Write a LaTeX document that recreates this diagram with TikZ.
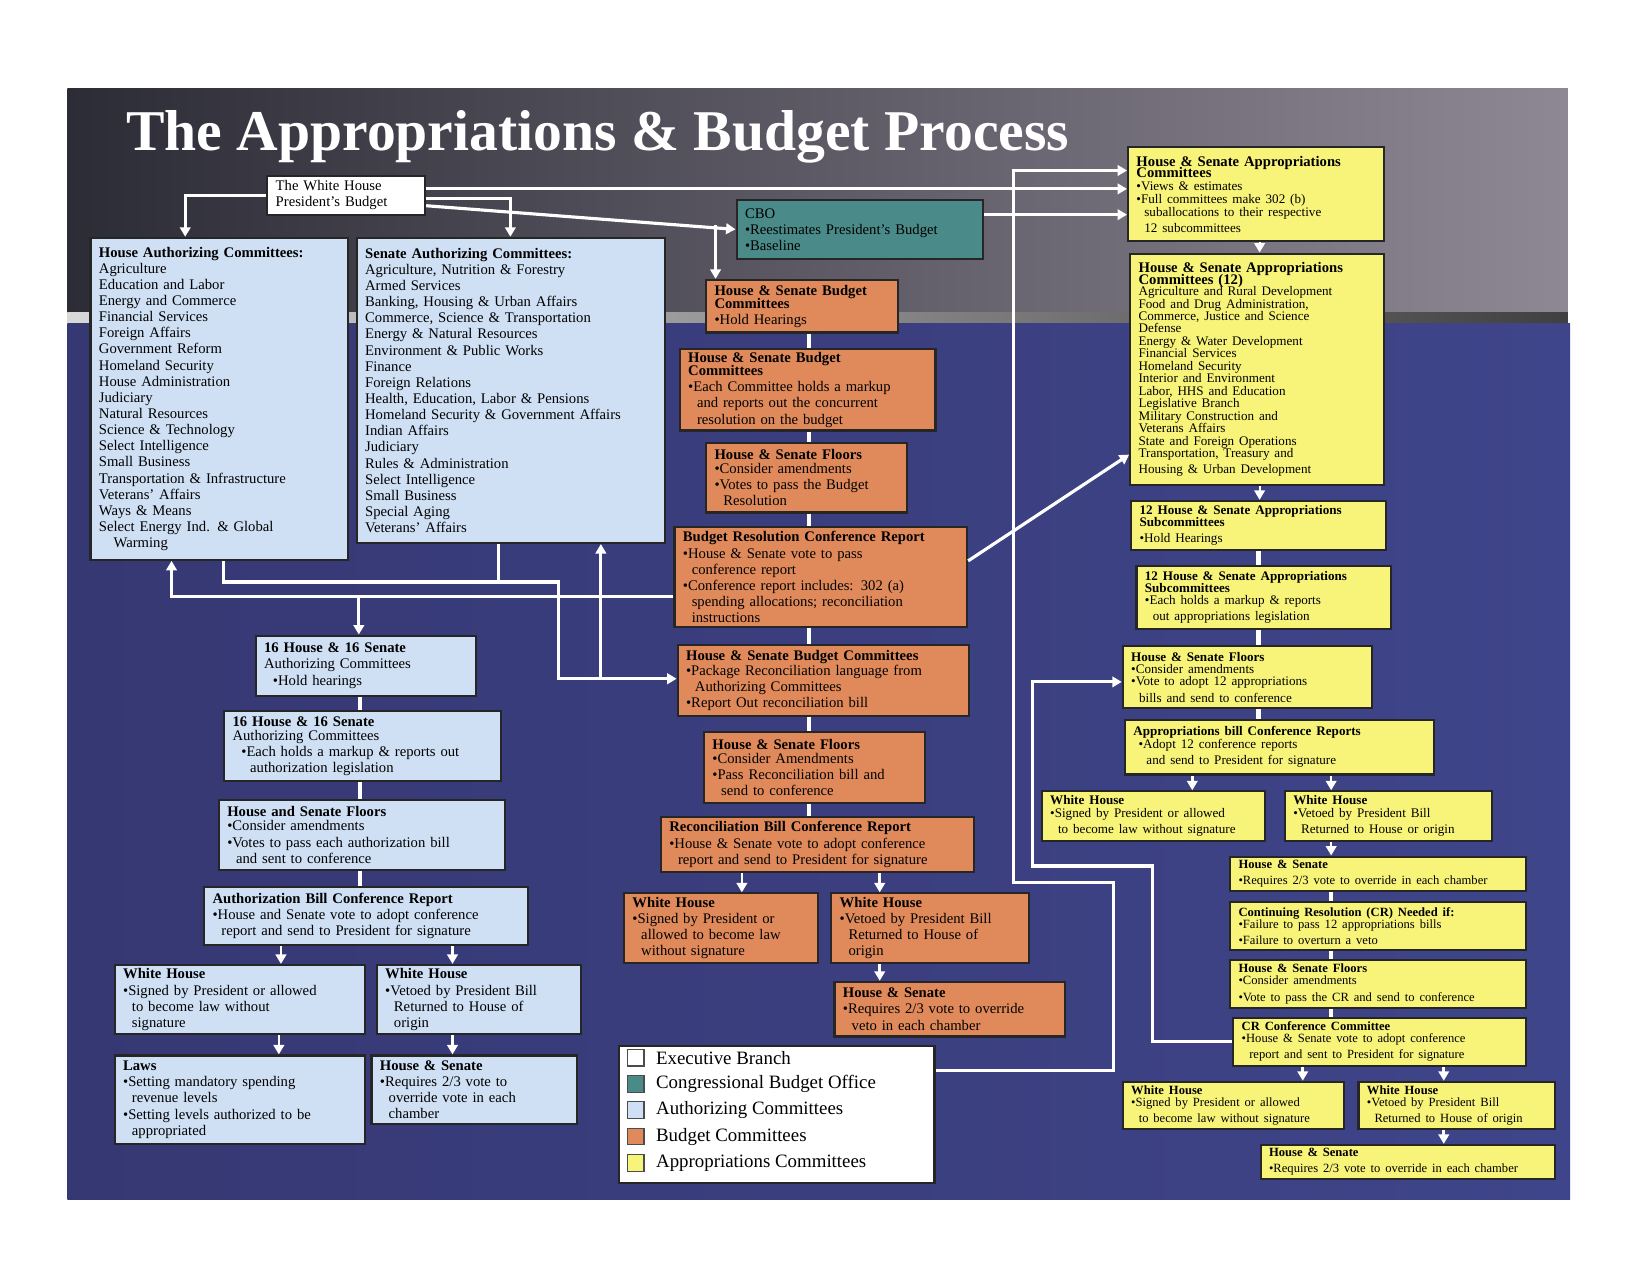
\documentclass[tikz,border=0pt]{standalone}
\usepackage{fontspec}
\setmainfont{Liberation Serif}
\usetikzlibrary{arrows.meta}
\definecolor{ablue}{HTML}{CFE0F5}
\definecolor{aorange}{HTML}{E08A5C}
\definecolor{ayellow}{HTML}{F8F47A}
\definecolor{ateal}{HTML}{4A8A88}
\definecolor{topl}{HTML}{2C2C36}
\definecolor{topr}{HTML}{8E8894}
\definecolor{botl}{HTML}{363873}
\definecolor{botr}{HTML}{3F458A}
\newcommand\bx[7]{\node[bx,fill=#6,minimum width={#4bp-#2bp},minimum height={#5bp-#3bp},text width=\dimexpr #4bp-#2bp-16bp\relax] (#1) at (#2,#3) {#7};}
\begin{document}
\begin{tikzpicture}[x=1bp,y=-1bp,
 bx/.style={draw=black!85,line width=2bp,anchor=north west,inner xsep=8bp,inner ysep=3bp,align=left,font=\fontsize{14}{15.4}\selectfont},
 arr/.style={draw=white,line width=3bp,-{Triangle[length=9bp,width=10bp]}},
 lnk/.style={draw=white,line width=4bp}]
\useasboundingbox (0,0) rectangle (1568,1212);
\fill[white] (0,0) rectangle (1568,1212);
\shade[left color=topl,right color=topr] (64,84) rectangle (1490,297);
\shade[left color=gray!30,right color=gray!50!black] (64,297) rectangle (1490,307);
\shade[left color=botl,right color=botr] (64,307) rectangle (1492,1140);
\node[text=white,font=\fontsize{55}{58}\selectfont\bfseries] (title) at (568,130) {The Appropriations \& Budget Process};
% white house
\bx{wh}{253}{166}{403}{203}{white}{The White House\\President’s Budget}
\bx{ha}{85}{225}{330}{531}{ablue}{\textbf{House Authorizing Committees:}\\Agriculture\\Education and Labor\\Energy and Commerce\\Financial Services\\Foreign Affairs\\Government Reform\\Homeland Security\\House Administration\\Judiciary\\Natural Resources\\Science \& Technology\\Select Intelligence\\Small Business\\Transportation \& Infrastructure\\Veterans’ Affairs\\Ways \& Means\\Select Energy Ind. \& Global\\\hspace*{1em}Warming}
\bx{sa}{338}{225}{631}{515}{ablue}{\textbf{Senate Authorizing Committees:}\\Agriculture, Nutrition \& Forestry\\Armed Services\\Banking, Housing \& Urban Affairs\\Commerce, Science \& Transportation\\Energy \& Natural Resources\\Environment \& Public Works\\Finance\\Foreign Relations\\Health, Education, Labor \& Pensions\\Homeland Security \& Government Affairs\\Indian Affairs\\Judiciary\\Rules \& Administration\\Select Intelligence\\Small Business\\Special Aging\\Veterans’ Affairs}
\bx{cbo}{699}{189}{933}{245}{ateal}{CBO\\•Reestimates President’s Budget\\•Baseline}
% budget chain
\bx{b1}{670}{265}{852}{315}{aorange}{\textbf{House \& Senate Budget}\\[-3bp]\textbf{Committees}\\•Hold Hearings}
\bx{b2}{645}{331}{888}{407}{aorange}{\textbf{House \& Senate Budget}\\[-3bp]\textbf{Committees}\\•Each Committee holds a markup\\\hspace*{0.6em}and reports out the concurrent\\\hspace*{0.6em}resolution on the budget}
\bx{fl}{670}{420}{861}{486}{aorange}{\textbf{House \& Senate Floors}\\[-2bp]•Consider amendments\\•Votes to pass the Budget\\\hspace*{0.6em}Resolution}
\bx{br}{640}{500}{918}{595}{aorange}{\textbf{Budget Resolution Conference Report}\\•House \& Senate vote to pass\\\hspace*{0.6em}conference report\\•Conference report includes: 302 (a)\\\hspace*{0.6em}spending allocations; reconciliation\\\hspace*{0.6em}instructions}
\bx{pk}{643}{612}{920}{679}{aorange}{\textbf{House \& Senate Budget Committees}\\[-1bp]•Package Reconciliation language from\\\hspace*{0.6em}Authorizing Committees\\•Report Out reconciliation bill}
\bx{rf}{668}{695}{878}{762}{aorange}{\textbf{House \& Senate Floors}\\[-2bp]•Consider Amendments\\•Pass Reconciliation bill and\\\hspace*{0.6em}send to conference}
\bx{rc}{627}{775}{925}{828}{aorange}{\textbf{Reconciliation Bill Conference Report}\\•House \& Senate vote to adopt conference\\\hspace*{0.6em}report and send to President for signature}
\bx{rw1}{592}{848}{776}{914}{aorange}{\textbf{White House}\\•Signed by President or\\\hspace*{0.6em}allowed to become law\\\hspace*{0.6em}without signature}
\bx{rw2}{789}{848}{977}{914}{aorange}{\textbf{White House}\\•Vetoed by President Bill\\\hspace*{0.6em}Returned to House of\\\hspace*{0.6em}origin}
\bx{rov}{792}{932}{1011}{984}{aorange}{\textbf{House \& Senate}\\•Requires 2/3 vote to override\\\hspace*{0.6em}veto in each chamber}
% left chain
\bx{h16}{242}{603}{451}{660}{ablue}{\textbf{16 House \& 16 Senate}\\Authorizing Committees\\\hspace*{0.6em}•Hold hearings}
\bx{m16}{212}{675}{475}{741}{ablue}{\textbf{16 House \& 16 Senate}\\[-2bp]Authorizing Committees\\\hspace*{0.6em}•Each holds a markup \& reports out\\\hspace*{1.2em}authorization legislation}
\bx{lf}{207}{759}{479}{826}{ablue}{\textbf{House and Senate Floors}\\[-2bp]•Consider amendments\\•Votes to pass each authorization bill\\\hspace*{0.6em}and sent to conference}
\bx{ac}{193}{842}{501}{897}{ablue}{\textbf{Authorization Bill Conference Report}\\•House and Senate vote to adopt conference\\\hspace*{0.6em}report and send to President for signature}
\bx{lw1}{108}{916}{346}{982}{ablue}{\textbf{White House}\\•Signed by President or allowed\\\hspace*{0.6em}to become law without\\\hspace*{0.6em}signature}
\bx{lw2}{357}{916}{551}{982}{ablue}{\textbf{White House}\\•Vetoed by President Bill\\\hspace*{0.6em}Returned to House of\\\hspace*{0.6em}origin}
\bx{laws}{108}{1002}{346}{1086}{ablue}{\textbf{Laws}\\•Setting mandatory spending\\\hspace*{0.6em}revenue levels\\•Setting levels authorized to be\\\hspace*{0.6em}appropriated}
\bx{lov}{352}{1002}{547}{1067}{ablue}{\textbf{House \& Senate}\\•Requires 2/3 vote to\\\hspace*{0.6em}override vote in each\\\hspace*{0.6em}chamber}
% legend
\node[draw=black!85,line width=2bp,fill=white,anchor=north west,minimum width=300bp,minimum height=130bp] (leg) at (587,993) {};
\foreach \c/\t [count=\i from 0] in {white/Executive Branch,ateal/Congressional Budget Office,ablue/Authorizing Committees,aorange/Budget Committees,ayellow/Appropriations Committees}{
 \node[draw=black!70,line width=1bp,fill=\c,minimum size=16bp,inner sep=0pt] (lg\i) at (604,{1005+25*\i}) {};
 \node[anchor=west,font=\fontsize{18}{19}\selectfont] (lt\i) at (620,{1005+25*\i}) {\t};}
% right column
\bx{ap1}{1071}{139}{1314}{228}{ayellow}{\textbf{House \& Senate Appropriations}\\[-4bp]\textbf{Committees}\\[-1bp]{\fontsize{12.5}{12.5}\selectfont •Views \& estimates\\•Full committees make 302 (b)\\\hspace*{0.6em}suballocations to their respective\\\hspace*{0.6em}12 subcommittees}}
\bx{ap2}{1073}{240}{1314}{460}{ayellow}{\textbf{House \& Senate Appropriations}\\[-4bp]\textbf{Committees (12)}\\[-1bp]{\fontsize{12.5}{11.9}\selectfont Agriculture and Rural Development\\Food and Drug Administration,\\Commerce, Justice and Science\\Defense\\Energy \& Water Development\\Financial Services\\Homeland Security\\Interior and  Environment\\Labor, HHS and Education\\Legislative Branch\\Military Construction and\\Veterans Affairs\\State and  Foreign Operations\\Transportation, Treasury and\\Housing \& Urban Development}}
\bx{s1}{1074}{475}{1316}{522}{ayellow}{\fontsize{12.5}{11.5}\selectfont\textbf{12 House \& Senate Appropriations}\\\textbf{Subcommittees}\\•Hold Hearings}
\bx{s2}{1079}{537}{1321}{597}{ayellow}{\fontsize{12.5}{11.5}\selectfont\textbf{12 House \& Senate Appropriations}\\\textbf{Subcommittees}\\•Each holds a markup \& reports\\\hspace*{0.6em}out appropriations legislation}
\bx{af}{1066}{613}{1303}{672}{ayellow}{\fontsize{12.5}{11.8}\selectfont\textbf{House \& Senate Floors}\\•Consider amendments\\•Vote to adopt 12 appropriations\\\hspace*{0.6em}bills and send to conference}
\bx{acr}{1068}{683}{1362}{735}{ayellow}{\fontsize{12.5}{12.5}\selectfont\textbf{Appropriations bill Conference Reports}\\\hspace*{0.4em}•Adopt 12 conference reports\\\hspace*{1em}and send to President for signature}
\bx{aw1}{989}{751}{1201}{798}{ayellow}{\fontsize{12.5}{11.8}\selectfont\textbf{White House}\\•Signed by President  or allowed\\\hspace*{0.6em}to become law  without signature}
\bx{aw2}{1220}{751}{1417}{798}{ayellow}{\fontsize{12.5}{11.8}\selectfont\textbf{White House}\\•Vetoed by President Bill\\\hspace*{0.6em}Returned to House or origin}
\bx{aov}{1168}{813}{1449}{846}{ayellow}{\fontsize{12}{11}\selectfont\textbf{House \& Senate}\\•Requires 2/3 vote to override in each chamber}
\bx{cr}{1168}{856}{1449}{902}{ayellow}{\fontsize{12}{11.5}\selectfont\textbf{Continuing Resolution (CR) Needed if:}\\•Failure to pass 12 appropriations bills\\•Failure to overturn a veto}
\bx{crf}{1168}{911}{1449}{957}{ayellow}{\fontsize{12}{11.5}\selectfont\textbf{House \& Senate Floors}\\•Consider amendments\\•Vote to pass the CR and send to conference}
\bx{crc}{1171}{966}{1449}{1012}{ayellow}{\fontsize{12}{11.5}\selectfont\textbf{CR Conference Committee}\\•House \& Senate vote to adopt conference\\\hspace*{0.6em}report and sent to President for signature}
\bx{cw1}{1066}{1027}{1276}{1072}{ayellow}{\fontsize{12}{11}\selectfont\textbf{White House}\\•Signed by President or allowed\\\hspace*{0.6em}to become law without signature}
\bx{cw2}{1290}{1027}{1477}{1072}{ayellow}{\fontsize{12}{11}\selectfont\textbf{White House}\\•Vetoed by President Bill\\\hspace*{0.6em}Returned to House of origin}
\bx{cov}{1197}{1087}{1477}{1119}{ayellow}{\fontsize{12}{11}\selectfont\textbf{House \& Senate}\\•Requires 2/3 vote to override in each chamber}
% connectors
\draw[arr] (wh.west) -| (ha.north -| 176,0);
\draw[arr] ([yshift=-3bp]wh.east) -| (sa.north -| 485,0);
\coordinate (cb) at (680,214);
\draw[arr] ([yshift=-10bp]wh.east) -- (cbo.west);
\draw[arr] (cb) -- (b1.north -| cb);
\draw[arr] ([yshift=6bp]wh.east) -- ([yshift=6bp]wh.east -| ap1.west);
\draw[arr] ([yshift=14bp]cbo.east) -- ([yshift=14bp]cbo.east -| ap1.west);
\draw[arr] (leg.east |- 0,1017) -- (1058,1017) -- (1058,839) -- (963,839) -- (963,162) -- (ap1.west |- 0,162);
\draw[arr] (crc.west) -- (crc.west -| 1095,0) -- (1095,823) -- (981,823) -- (981,648) -- (af.west |- 0,648);
\draw[arr] (br.east |- 0,533) -- (ap2.west |- 0,432);
\draw[arr] (ha.south -| 212,0) -- (212,553) -- (531,553) -- (531,645) -- (pk.west |- 0,645);
\draw[lnk,line width=3bp] (sa.south -| 474,0) -- (474,553);
\draw[arr] (br.west |- 0,567) -- (163,567) -- (ha.south -| 163,0);
\draw[arr] (341,567) -- (h16.north -| 341,0);
\draw[arr] (571,645) -- (sa.south -| 571,0);
\foreach \a/\b in {b1/b2,b2/fl,fl/br,br/pk,pk/rf,rf/rc} \draw[lnk] (\a.south -| 769,0) -- (\b.north -| 769,0);
\foreach \a/\b in {h16/m16,m16/lf,lf/ac} \draw[lnk] (\a.south -| 342,0) -- (\b.north -| 342,0);
\foreach \a/\b in {s1/s2,s2/af,af/acr} \draw[lnk] (\a.south -| 1196,0) -- (\b.north -| 1196,0);
\foreach \a/\b in {aov/cr,cr/crf,crf/crc} \draw[lnk] (\a.south -| 1265,0) -- (\b.north -| 1265,0);
\draw[arr,line width=2bp] (ap1.south -| 1197,0) -- (ap2.north -| 1197,0);
\draw[arr,line width=2bp] (ap2.south -| 1197,0) -- (s1.north -| 1197,0);
\foreach \a/\b/\x in {rc/rw1/705,rc/rw2/836,rw2/rov/836,ac/lw1/267,ac/lw2/430,lw1/laws/265,lw2/lov/430,acr/aw1/1133,acr/aw2/1265,aw2/aov/1265,crc/cw1/1238,crc/cw2/1372,cw2/cov/1372}
 \draw[arr,line width=2.5bp] (\a.south -| \x,0) -- (\b.north -| \x,0);
\end{tikzpicture}
\end{document}
